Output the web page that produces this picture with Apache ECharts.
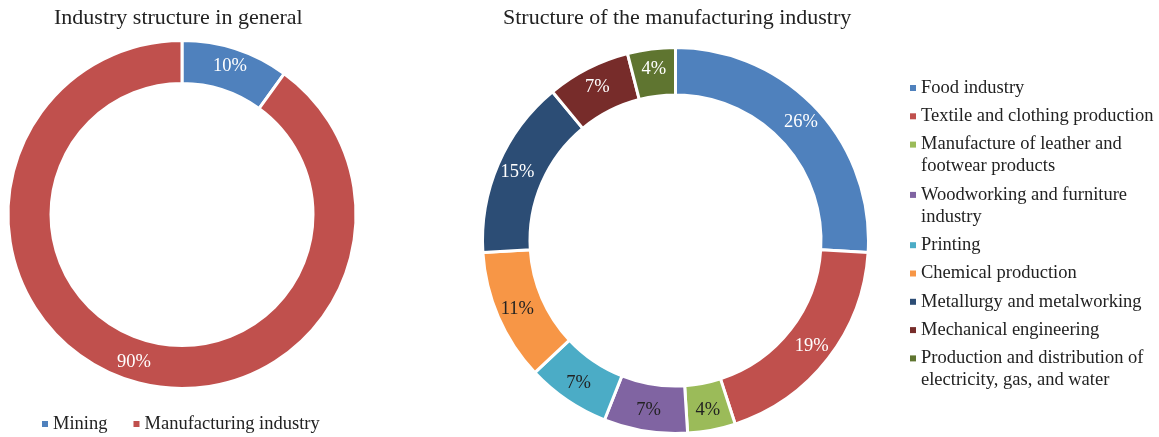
<!DOCTYPE html>
<html>
<head>
<meta charset="utf-8">
<script src="https://cdn.jsdelivr.net/npm/echarts@6/dist/echarts.min.js"></script>
<style>
  html, body { margin: 0; padding: 0; background: #fff; }
  #chart { width: 1159px; height: 437px; }
</style>
</head>
<body>
<div id="chart"></div>
<script>
// Industry structure: overall split, and manufacturing breakdown (shares in %)
const generalCategories = ['Mining', 'Manufacturing industry'];
const generalValues = [10, 90];
const generalColors = ['#4F81BD', '#C0504D'];

const manufCategories = [
  'Food industry',
  'Textile and clothing production',
  'Manufacture of leather and\nfootwear products',
  'Woodworking and furniture\nindustry',
  'Printing',
  'Chemical production',
  'Metallurgy and metalworking',
  'Mechanical engineering',
  'Production and distribution of\nelectricity, gas, and water'
];
const manufValues = [26, 19, 4, 7, 7, 11, 15, 7, 4];
const manufColors = ['#4F81BD', '#C0504D', '#9BBB59', '#8064A2', '#4BACC6',
                     '#F79646', '#2C4D75', '#772C2A', '#5F7530'];
// label text colour per slice: light text on dark slices, dark on light ones
const manufLabelDark = [false, false, true, true, true, true, false, false, false];

const FONT = "'Liberation Serif', 'Times New Roman', serif";
const TEXT = '#222';

const chart = echarts.init(document.getElementById('chart'), null, { renderer: 'canvas' });

// rich styles for the right-hand legend markers
const legendRich = {
  t: { fontFamily: FONT, fontSize: 18.5, color: TEXT, lineHeight: 22 },
  s: { width: 11, height: 6, lineHeight: 22 }
};
manufColors.forEach((c, i) => {
  legendRich['m' + i] = { width: 6, height: 6, backgroundColor: c, lineHeight: 22 };
  legendRich['g' + i] = { width: 5, height: 6, lineHeight: 22 };
});

function pieData(names, values, colors, darkFlags) {
  return names.map((n, i) => ({
    name: n,
    value: values[i],
    itemStyle: { color: colors[i] },
    label: { color: darkFlags && darkFlags[i] ? TEXT : '#fff' }
  }));
}

const option = {
  backgroundColor: '#fff',
  animation: false,
  title: [
    {
      text: 'Industry structure in general',
      left: 54, top: 7, padding: 0,
      textStyle: { fontFamily: FONT, fontSize: 22, fontWeight: 'normal', color: TEXT }
    },
    {
      text: 'Structure of the manufacturing industry',
      left: 503, top: 7, padding: 0,
      textStyle: { fontFamily: FONT, fontSize: 22, fontWeight: 'normal', color: TEXT }
    }
  ],
  legend: [
    {
      data: generalCategories,
      orient: 'horizontal',
      left: 42, top: 413,
      padding: 0,
      icon: 'rect',
      itemWidth: 6, itemHeight: 6,
      itemGap: 26, textGap: 5,
      selectedMode: false,
      itemStyle: { borderWidth: 0 },
      textStyle: { fontFamily: FONT, fontSize: 18.5, color: TEXT, lineHeight: 22 }
    },
    {
      data: manufCategories,
      orient: 'vertical',
      left: 905, top: 77,
      padding: 0,
      icon: 'none',
      itemWidth: 0, itemHeight: 6,
      itemGap: 6.3, textGap: 0,
      selectedMode: false,
      formatter: function (name) {
        const i = manufCategories.indexOf(name);
        return name.split('\n').map((line, k) =>
          (k === 0 ? '{m' + i + '|}{g' + i + '|}' : '{s|}') + '{t|' + line + '}'
        ).join('\n');
      },
      textStyle: { fontFamily: FONT, fontSize: 18.5, color: TEXT, lineHeight: 22, rich: legendRich }
    }
  ],
  series: [
    {
      type: 'pie',
      center: [182, 214.5],
      radius: [131, 174],
      startAngle: 90,
      clockwise: true,
      avoidLabelOverlap: false,
      itemStyle: { borderColor: '#fff', borderWidth: 3 },
      label: {
        show: true, position: 'inside',
        formatter: p => p.value + '%',
        fontFamily: FONT, fontSize: 18.5
      },
      labelLine: { show: false },
      emphasis: { disabled: true },
      data: pieData(generalCategories, generalValues, generalColors, null)
    },
    {
      type: 'pie',
      center: [675.5, 240.5],
      radius: [145.5, 193],
      startAngle: 90,
      clockwise: true,
      avoidLabelOverlap: false,
      itemStyle: { borderColor: '#fff', borderWidth: 3 },
      label: {
        show: true, position: 'inside',
        formatter: p => p.value + '%',
        fontFamily: FONT, fontSize: 18.5
      },
      labelLine: { show: false },
      emphasis: { disabled: true },
      data: pieData(manufCategories, manufValues, manufColors, manufLabelDark)
    }
  ]
};

chart.setOption(option);
</script>
</body>
</html>
